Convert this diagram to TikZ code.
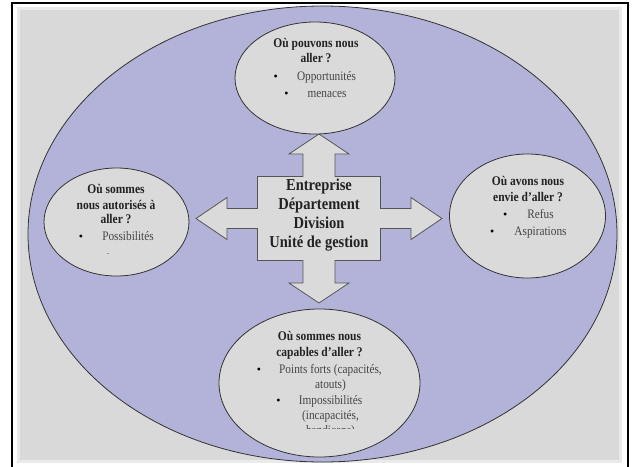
\documentclass[tikz,border=0pt]{standalone}
\usepackage{fontspec}
\usepackage{graphicx}
\setmainfont{Liberation Serif}
\usetikzlibrary{shapes.geometric}

\definecolor{paper}{HTML}{D9D9D9}
\definecolor{lavender}{HTML}{B3B3D9}
\definecolor{bubblefill}{HTML}{DADADA}
\definecolor{edge}{HTML}{333333}
\definecolor{crossedge}{HTML}{555555}
\definecolor{headtext}{HTML}{222222}
\definecolor{bodytext}{HTML}{454545}

% slightly tall lettering
\newcommand{\tall}[1]{\scalebox{1}[1.15]{#1}}

\tikzset{
  bubble/.style={ellipse, draw=edge, line width=0.8pt, fill=bubblefill, inner sep=0pt},
  title/.style={font=\fontsize{11.5}{16}\selectfont\bfseries, text=headtext, anchor=mid, inner sep=0pt},
  item/.style={font=\fontsize{11.3}{14}\selectfont, text=bodytext, anchor=mid, inner sep=0pt},
  dot/.style={font=\fontsize{12}{14}\selectfont, text=black, anchor=mid, inner sep=0pt},
  hubtext/.style={font=\fontsize{14.5}{18.8}\selectfont\bfseries, text=headtext, align=center, inner sep=0pt},
}

\begin{document}
\begin{tikzpicture}[x=1pt,y=-1pt]
  % page and frame
  \useasboundingbox (0,0) rectangle (632,466);
  \fill[white] (0,0) rectangle (632,466);
  \fill[paper!55!white] (17,7) rectangle (622,463);
  \fill[paper] (20,10) rectangle (619,460);
  \draw[line width=2pt, black] (12,467) -- (12,3) -- (628,3) -- (628,467);

  % surrounding field
  \node[ellipse, draw=edge, line width=0.8pt, fill=lavender, inner sep=0pt,
        minimum width=589pt, minimum height=456pt] (field) at (322.5,234) {};

  % four-way block arrow around the central box
  \coordinate (cross) at (319,218.5);
  \begin{scope}[shift={(cross)}]
    \draw[draw=crossedge, line width=0.8pt, fill=bubblefill, line join=miter]
      (0,-84.5) -- (30,-64.5) -- (16,-64.5) -- (16,-42) -- (61.5,-42) -- (61.5,-10)
      -- (92,-10) -- (92,-21) -- (123,0) -- (92,21) -- (92,10) -- (61.5,10)
      -- (61.5,42) -- (16,42) -- (16,64.5) -- (30,64.5) -- (0,84.5) -- (-30,64.5)
      -- (-16,64.5) -- (-16,42) -- (-61.5,42) -- (-61.5,10) -- (-92,10) -- (-92,21)
      -- (-123,0) -- (-92,-21) -- (-92,-10) -- (-61.5,-10) -- (-61.5,-42) -- (-16,-42)
      -- (-16,-64.5) -- (-30,-64.5) -- cycle;
  \end{scope}
  \node[hubtext] (hub) at (319,215)
    {\tall{Entreprise}\\\tall{Département}\\\tall{Division}\\\tall{Unité de gestion}};

  % top bubble
  \node[bubble, minimum width=160pt, minimum height=112pt] (top) at (315,78) {};
  \node[title] (top1) at (316,45) {\tall{Où pouvons nous}};
  \node[title] (top2) at (316,60) {\tall{aller ?}};
  \node[item] (top3) at (326.5,78) {\tall{Opportunités}};
  \node[item] (top4) at (327,95) {\tall{menaces}};
  \node[dot] at ([xshift=-21pt]top3.mid west) {•};
  \node[dot] at ([xshift=-21pt]top4.mid west) {•};

  % left bubble
  \node[bubble, minimum width=145pt, minimum height=108pt] (left) at (116.5,222) {};
  \node[title] (left1) at (116,191) {\tall{Où sommes}};
  \node[title] (left2) at (116,207) {\tall{nous autorisés à}};
  \node[title] (left3) at (116,221) {\tall{aller ?}};
  \node[item] (left4) at (128,238) {\tall{Possibilités}};
  \node[dot] at ([xshift=-21pt]left4.mid west) {•};
  \node[item, font=\fontsize{7}{8}\selectfont] (left5) at (108,253) {-};

  % right bubble
  \node[bubble, minimum width=156pt, minimum height=124pt] (right) at (527.5,216) {};
  \node[title] (right1) at (528,183) {\tall{Où avons nous}};
  \node[title] (right2) at (528,199) {\tall{envie d’aller ?}};
  \node[item] (right3) at (540.5,216) {\tall{Refus}};
  \node[item] (right4) at (540.5,233) {\tall{Aspirations}};
  \node[dot] at ([xshift=-22pt]right3.mid west) {•};
  \node[dot] at ([xshift=-22pt]right4.mid west) {•};

  % bottom bubble
  \node[bubble, minimum width=201pt, minimum height=148pt] (bottom) at (319.5,383) {};
  \node[title] (bot1) at (319.5,338) {\tall{Où sommes nous}};
  \node[title] (bot2) at (319.5,354) {\tall{capables d’aller ?}};
  \node[item] (bot3) at (330.5,371) {\tall{Points forts (capacités,}};
  \node[item] (bot4) at (330.5,386) {\tall{atouts)}};
  \node[item] (bot5) at (330.5,402) {\tall{Impossibilités}};
  \node[item] (bot6) at (330.5,417) {\tall{(incapacités,}};
  \node[dot] at ([xshift=-20pt]bot3.mid west) {•};
  \node[dot] at ([xshift=-20pt]bot5.mid west) {•};
  % last line, cut off by the text frame
  \begin{scope}
    \clip (250,420) rectangle (400,428);
    \node[item] (bot7) at (330.5,432) {\tall{handicaps)}};
  \end{scope}
\end{tikzpicture}
\end{document}
